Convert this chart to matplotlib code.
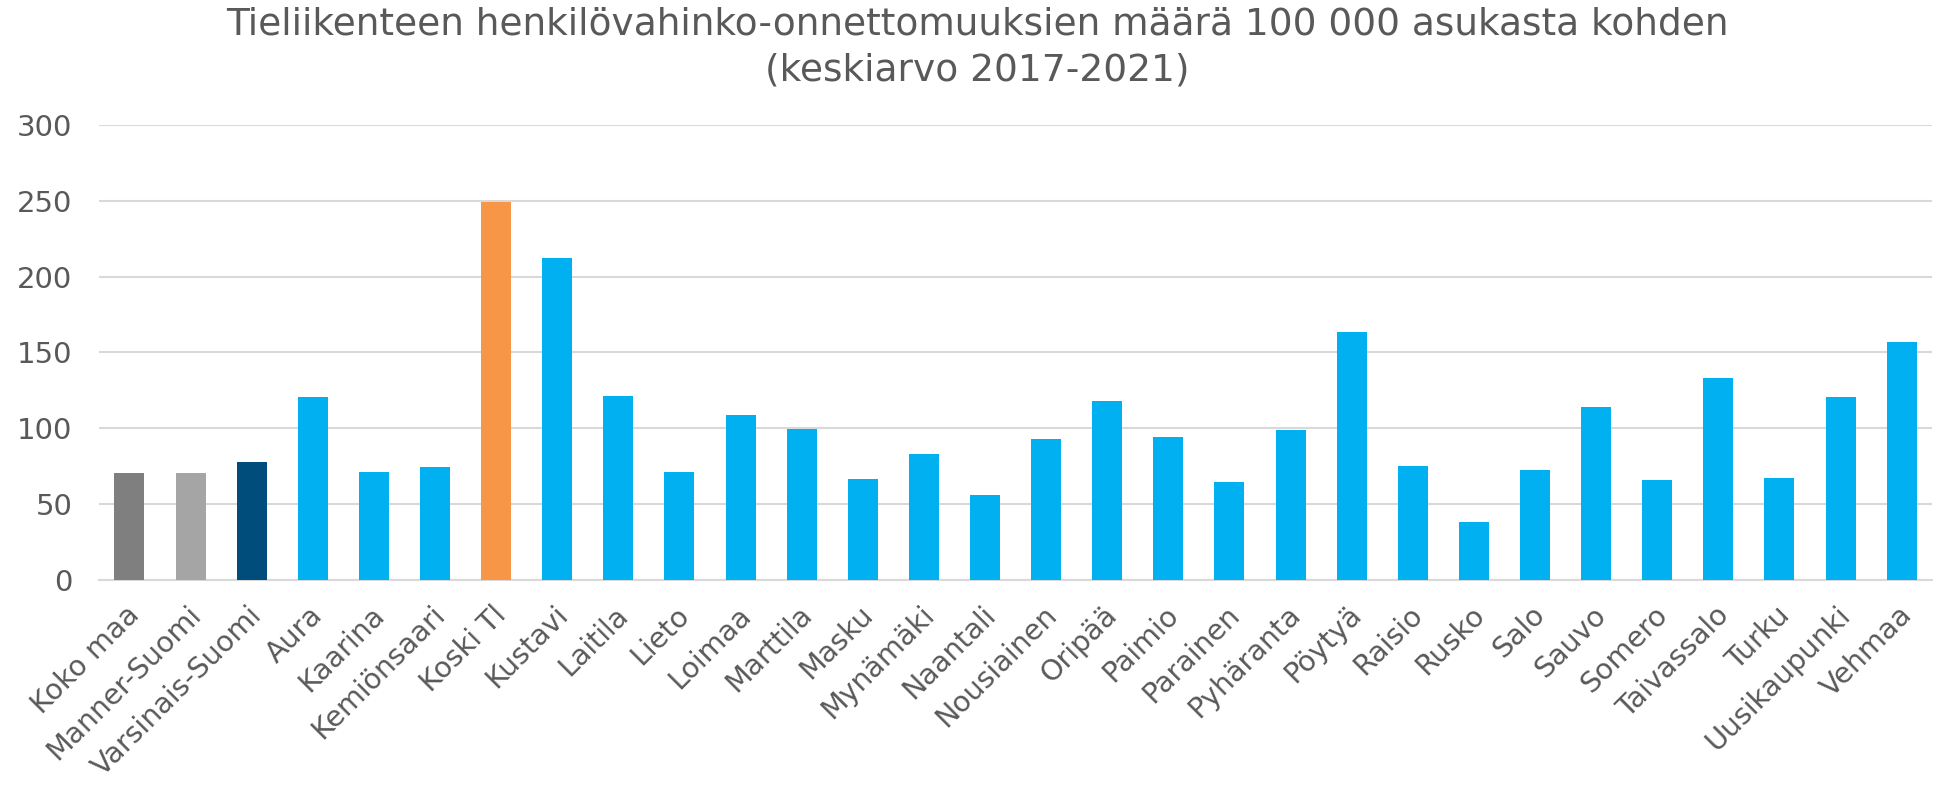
import matplotlib
matplotlib.use("Agg")
import matplotlib.pyplot as plt
import matplotlib.transforms as mtransforms

categories = ["Koko maa", "Manner-Suomi", "Varsinais-Suomi", "Aura", "Kaarina",
              "Kemiönsaari", "Koski Tl", "Kustavi", "Laitila", "Lieto", "Loimaa",
              "Marttila", "Masku", "Mynämäki", "Naantali", "Nousiainen", "Oripää",
              "Paimio", "Parainen", "Pyhäranta", "Pöytyä", "Raisio", "Rusko", "Salo",
              "Sauvo", "Somero", "Taivassalo", "Turku", "Uusikaupunki", "Vehmaa"]
values = [70.3, 70.3, 77.8, 120.7, 71.4,
          74.5, 249.2, 212.5, 121.3, 71.2, 108.8,
          99.6, 66.6, 82.9, 55.8, 92.7, 118.0,
          94.1, 64.4, 98.7, 163.3, 74.9, 38.2, 72.3,
          114.1, 65.9, 133.0, 67.0, 120.4, 156.7]
yticks = [0, 50, 100, 150, 200, 250, 300]
title = "Tieliikenteen henkilövahinko-onnettomuuksien määrä 100 000 asukasta kohden\n(keskiarvo 2017-2021)"

special = {"Koko maa": "#7F7F7F", "Manner-Suomi": "#A5A5A5",
           "Varsinais-Suomi": "#004C7A", "Koski Tl": "#F79646"}
colors = [special.get(c, "#00B0F0") for c in categories]

plt.rcParams['font.family'] = ['DejaVu Sans']
text_color = "#595959"
grid_color = "#D9D9D9"

fig = plt.figure(figsize=(19.39, 7.85), dpi=100)
ax = fig.add_axes([0.051, 0.261, 0.9455, 0.58])

x = list(range(len(categories)))
ax.bar(x, values, width=0.49, color=colors, zorder=3)

ax.set_xlim(-0.5, len(categories) - 0.5)
ax.set_ylim(0, 300)
ax.set_yticks(yticks)
ax.set_yticklabels([str(t) for t in yticks], fontsize=21, color=text_color)
ax.set_xticks(x)
ax.set_xticklabels(categories, fontsize=20.5, color=text_color, rotation=45,
                   ha='right', va='center', rotation_mode='anchor')
ax.tick_params(axis='both', length=0)
ax.tick_params(axis='y', pad=19)
ax.tick_params(axis='x', pad=22)

offset = mtransforms.ScaledTranslation(6 / 100, 0, fig.dpi_scale_trans)
for lbl in ax.get_xticklabels():
    lbl.set_transform(lbl.get_transform() + offset)

ax.grid(axis='y', color=grid_color, linewidth=1.5, zorder=0)
for s in ['top', 'right', 'left']:
    ax.spines[s].set_visible(False)
ax.spines['bottom'].set_color(grid_color)
ax.spines['bottom'].set_linewidth(1.5)

fig.text(0.504, 0.992, title, ha='center', va='top', fontsize=27,
         color=text_color, linespacing=1.35)

fig.savefig("out.png", dpi=100, facecolor="white")
